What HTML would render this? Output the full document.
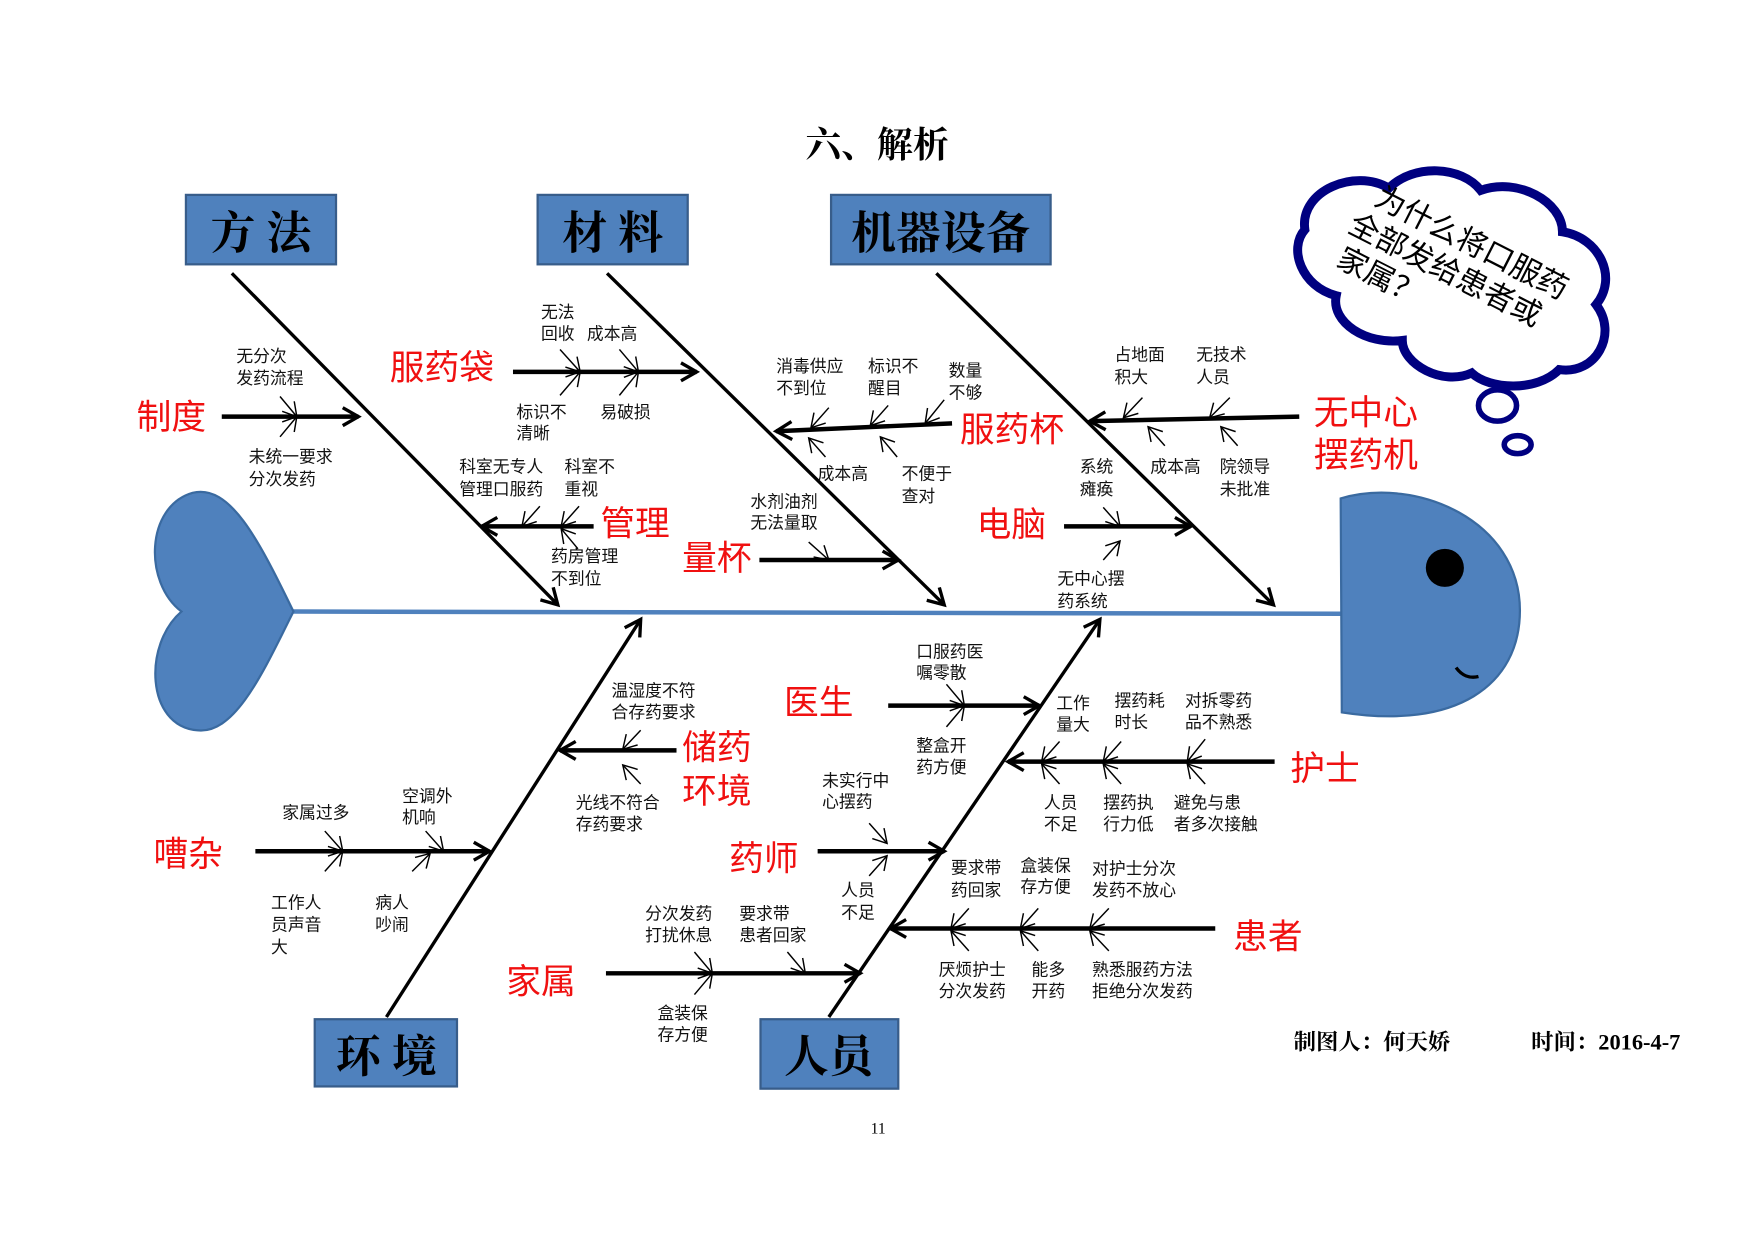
<!DOCTYPE html>
<html><head><meta charset="utf-8"><style>
html,body{margin:0;padding:0;background:#fff;}
svg{display:block;}
text{font-family:"Liberation Sans","Noto Sans CJK SC",sans-serif;}
.s{font-size:15px;fill:#111;}
.r{font-size:31px;fill:#f01010;}
.b{font-family:"Liberation Serif","Noto Serif CJK SC",serif;font-size:40px;fill:#000;text-anchor:middle;font-weight:bold;}
.bone{stroke:#000;stroke-width:3;fill:none;marker-end:url(#big);}
.br{stroke:#000;stroke-width:4;fill:none;marker-end:url(#big);}
.sm{stroke:#000;stroke-width:1.3;fill:none;marker-end:url(#sm);}
</style></head><body>
<svg width="1754" height="1241" viewBox="0 0 1566 1108" preserveAspectRatio="none" xmlns="http://www.w3.org/2000/svg">
<defs>
<marker id="big" markerUnits="userSpaceOnUse" markerWidth="30" markerHeight="30" refX="18" refY="15" orient="auto"><path d="M4,7 L18,15 L4,23" fill="none" stroke="#000" stroke-width="3"/></marker>
<marker id="sm" markerUnits="userSpaceOnUse" markerWidth="24" markerHeight="24" refX="14" refY="12" orient="auto"><path d="M2,5 L14,12 L2,19" fill="none" stroke="#000" stroke-width="1.3"/></marker>
</defs>
<text x="783" y="140" style="font-family:'Liberation Serif','Noto Serif CJK SC',serif;font-size:32px;font-weight:bold" text-anchor="middle">六、解析</text>

<rect x="166" y="174" width="134" height="62" fill="#4f81bd" stroke="#385d8a" stroke-width="2"/>
<text class="b" x="233" y="222">方 法</text>
<rect x="480" y="174" width="134" height="62" fill="#4f81bd" stroke="#385d8a" stroke-width="2"/>
<text class="b" x="547" y="222">材 料</text>
<rect x="742" y="174" width="196" height="62" fill="#4f81bd" stroke="#385d8a" stroke-width="2"/>
<text class="b" x="840" y="222">机器设备</text>
<rect x="281" y="910" width="127" height="60" fill="#4f81bd" stroke="#385d8a" stroke-width="2"/>
<text class="b" x="345" y="957">环 境</text>
<rect x="679" y="910" width="123" height="62" fill="#4f81bd" stroke="#385d8a" stroke-width="2"/>
<text class="b" x="740" y="957">人员</text>

<line x1="262" y1="546" x2="1197" y2="548" stroke="#4f81bd" stroke-width="4"/>
<path d="M262,546 C230,480 205,432 172,440 C130,452 128,520 162,546 C128,575 130,648 176,652 C210,656 235,600 262,546Z" fill="#4f81bd" stroke="#3a6aa0" stroke-width="2"/>
<path d="M1197,445 C1265,425 1357,465 1357,545 C1357,612 1300,652 1198,636 Z" fill="#4f81bd" stroke="#3a6aa0" stroke-width="2"/>
<circle cx="1290" cy="507" r="17" fill="#000"/>
<path d="M1300,596 C1305,603 1312,606 1320,604" stroke="#000" stroke-width="3" fill="none"/>

<path d="M1165,205 C1160,170 1210,150 1240,168 C1262,146 1305,148 1322,170 C1355,158 1395,180 1395,207 C1428,212 1445,248 1425,272 C1445,298 1425,335 1392,330 C1372,350 1330,348 1314,333 C1288,345 1252,325 1252,304 C1220,308 1188,288 1193,264 C1162,256 1150,222 1165,205Z" fill="#fff" stroke="#000080" stroke-width="8"/>
<g transform="translate(1297,250) rotate(27)" style="font-size:27px">
<text x="0" y="-28" text-anchor="middle">为什么将口服药</text>
<text x="-10" y="4" text-anchor="middle">全部发给患者或</text>
<text x="-100" y="36" text-anchor="start">家属？</text>
</g>
<ellipse cx="1337" cy="362" rx="17" ry="14" fill="none" stroke="#000080" stroke-width="5"/>
<ellipse cx="1355" cy="397" rx="12" ry="8" fill="none" stroke="#000080" stroke-width="5"/>

<line class="bone" x1="207" y1="244" x2="498" y2="540"/>
<line class="bone" x1="542" y1="244" x2="843" y2="540"/>
<line class="bone" x1="836" y1="244" x2="1137" y2="540"/>
<line class="bone" x1="345" y1="908" x2="572" y2="553"/>
<line class="bone" x1="740" y1="908" x2="982" y2="553"/>

<text class="r" x="122" y="383">制度</text>
<line class="br" x1="198" y1="372" x2="320" y2="372"/>
<line class="sm" x1="250" y1="354" x2="265" y2="372"/><line class="sm" x1="250" y1="390" x2="265" y2="372"/>
<text class="s" x="211" y="323">无分次</text><text class="s" x="211" y="343">发药流程</text>
<text class="s" x="222" y="413">未统一要求</text><text class="s" x="222" y="433">分次发药</text>
<text class="r" x="348" y="339">服药袋</text>
<line class="br" x1="458" y1="332" x2="622" y2="332"/>
<line class="sm" x1="500" y1="312" x2="518" y2="332"/><line class="sm" x1="500" y1="353" x2="518" y2="332"/>
<line class="sm" x1="553" y1="312" x2="570" y2="332"/><line class="sm" x1="553" y1="353" x2="570" y2="332"/>
<text class="s" x="483" y="284">无法</text><text class="s" x="483" y="303">回收</text><text class="s" x="524" y="303">成本高</text>
<text class="s" x="461" y="373">标识不</text><text class="s" x="461" y="392">清晰</text><text class="s" x="536" y="373">易破损</text>
<text class="r" x="536" y="478">管理</text>
<line class="br" x1="530" y1="470" x2="430" y2="470"/>
<line class="sm" x1="482" y1="452" x2="466" y2="470"/><line class="sm" x1="517" y1="452" x2="501" y2="470"/>
<line class="sm" x1="516" y1="490" x2="501" y2="472"/>
<text class="s" x="410" y="422">科室无专人</text><text class="s" x="410" y="442">管理口服药</text>
<text class="s" x="504" y="422">科室不</text><text class="s" x="504" y="442">重视</text>
<text class="s" x="492" y="502">药房管理</text><text class="s" x="492" y="522">不到位</text>
<text class="r" x="609" y="509">量杯</text>
<line class="br" x1="678" y1="500" x2="802" y2="500"/>
<line class="sm" x1="722" y1="484" x2="740" y2="500"/>
<text class="s" x="670" y="453">水剂油剂</text><text class="s" x="670" y="472">无法量取</text>
<text class="r" x="857" y="394">服药杯</text>
<line class="br" x1="850" y1="378" x2="693" y2="385"/>
<line class="sm" x1="740" y1="364" x2="724" y2="382"/><line class="sm" x1="793" y1="362" x2="777" y2="380"/><line class="sm" x1="843" y1="357" x2="826" y2="378"/>
<line class="sm" x1="737" y1="408" x2="722" y2="391"/><line class="sm" x1="801" y1="408" x2="786" y2="390"/>
<text class="s" x="693" y="332">消毒供应</text><text class="s" x="693" y="352">不到位</text>
<text class="s" x="775" y="332">标识不</text><text class="s" x="775" y="352">醒目</text>
<text class="s" x="847" y="336">数量</text><text class="s" x="847" y="356">不够</text>
<text class="s" x="730" y="428">成本高</text>
<text class="s" x="805" y="428">不便于</text><text class="s" x="805" y="448">查对</text>
<text class="r" x="872" y="479">电脑</text>
<line class="br" x1="950" y1="470" x2="1063" y2="470"/>
<line class="sm" x1="985" y1="453" x2="1000" y2="470"/><line class="sm" x1="985" y1="500" x2="1000" y2="483"/>
<text class="s" x="964" y="422">系统</text><text class="s" x="964" y="442">瘫痪</text>
<text class="s" x="944" y="522">无中心摆</text><text class="s" x="944" y="542">药系统</text>
<text class="r" x="1173" y="379">无中心</text><text class="r" x="1173" y="417">摆药机</text>
<line class="br" x1="1160" y1="372" x2="973" y2="376"/>
<line class="sm" x1="1020" y1="355" x2="1003" y2="373"/><line class="sm" x1="1098" y1="355" x2="1080" y2="373"/>
<line class="sm" x1="1040" y1="398" x2="1025" y2="381"/><line class="sm" x1="1105" y1="398" x2="1090" y2="381"/>
<text class="s" x="995" y="322">占地面</text><text class="s" x="995" y="342">积大</text>
<text class="s" x="1068" y="322">无技术</text><text class="s" x="1068" y="342">人员</text>
<text class="s" x="1027" y="422">成本高</text>
<text class="s" x="1089" y="422">院领导</text><text class="s" x="1089" y="442">未批准</text>

<text class="r" x="609" y="678">储药</text><text class="r" x="609" y="717">环境</text>
<line class="br" x1="604" y1="670" x2="500" y2="670"/>
<line class="sm" x1="572" y1="652" x2="556" y2="669"/><line class="sm" x1="572" y1="700" x2="556" y2="683"/>
<text class="s" x="546" y="622">温湿度不符</text><text class="s" x="546" y="641">合存药要求</text>
<text class="s" x="514" y="722">光线不符合</text><text class="s" x="514" y="741">存药要求</text>
<text class="r" x="137" y="773">嘈杂</text>
<line class="br" x1="228" y1="760" x2="437" y2="760"/>
<line class="sm" x1="290" y1="742" x2="306" y2="760"/><line class="sm" x1="290" y1="778" x2="306" y2="760"/>
<line class="sm" x1="380" y1="742" x2="396" y2="760"/><line class="sm" x1="368" y1="778" x2="384" y2="762"/>
<text class="s" x="252" y="731">家属过多</text>
<text class="s" x="359" y="716">空调外</text><text class="s" x="359" y="735">机响</text>
<text class="s" x="242" y="811">工作人</text><text class="s" x="242" y="831">员声音</text><text class="s" x="242" y="851">大</text>
<text class="s" x="335" y="811">病人</text><text class="s" x="335" y="831">吵闹</text>
<text class="r" x="700" y="638">医生</text>
<line class="br" x1="793" y1="630" x2="928" y2="630"/>
<line class="sm" x1="845" y1="611" x2="861" y2="630"/><line class="sm" x1="845" y1="649" x2="861" y2="630"/>
<text class="s" x="818" y="587">口服药医</text><text class="s" x="818" y="606">嘱零散</text>
<text class="s" x="818" y="671">整盒开</text><text class="s" x="818" y="690">药方便</text>
<text class="r" x="1152" y="697">护士</text>
<line class="br" x1="1138" y1="680" x2="900" y2="680"/>
<line class="sm" x1="946" y1="662" x2="930" y2="680"/><line class="sm" x1="1001" y1="662" x2="985" y2="680"/><line class="sm" x1="1076" y1="660" x2="1060" y2="680"/>
<line class="sm" x1="946" y1="700" x2="930" y2="682"/><line class="sm" x1="1001" y1="700" x2="985" y2="682"/><line class="sm" x1="1076" y1="700" x2="1060" y2="682"/>
<text class="s" x="943" y="633">工作</text><text class="s" x="943" y="652">量大</text>
<text class="s" x="995" y="631">摆药耗</text><text class="s" x="995" y="650">时长</text>
<text class="s" x="1058" y="631">对拆零药</text><text class="s" x="1058" y="650">品不熟悉</text>
<text class="s" x="932" y="722">人员</text><text class="s" x="932" y="741">不足</text>
<text class="s" x="985" y="722">摆药执</text><text class="s" x="985" y="741">行力低</text>
<text class="s" x="1048" y="722">避免与患</text><text class="s" x="1048" y="741">者多次接触</text>
<text class="r" x="651" y="777">药师</text>
<line class="br" x1="730" y1="760" x2="843" y2="760"/>
<line class="sm" x1="776" y1="735" x2="792" y2="753"/><line class="sm" x1="776" y1="782" x2="792" y2="764"/>
<text class="s" x="734" y="702">未实行中</text><text class="s" x="734" y="721">心摆药</text>
<text class="s" x="751" y="800">人员</text><text class="s" x="751" y="820">不足</text>
<text class="r" x="1101" y="847">患者</text>
<line class="br" x1="1085" y1="829" x2="795" y2="829"/>
<line class="sm" x1="865" y1="811" x2="849" y2="829"/><line class="sm" x1="927" y1="811" x2="911" y2="829"/><line class="sm" x1="990" y1="811" x2="973" y2="829"/>
<line class="sm" x1="865" y1="849" x2="849" y2="831"/><line class="sm" x1="927" y1="849" x2="911" y2="831"/><line class="sm" x1="990" y1="849" x2="973" y2="831"/>
<text class="s" x="849" y="780">要求带</text><text class="s" x="849" y="800">药回家</text>
<text class="s" x="911" y="778">盒装保</text><text class="s" x="911" y="797">存方便</text>
<text class="s" x="975" y="781">对护士分次</text><text class="s" x="975" y="800">发药不放心</text>
<text class="s" x="838" y="871">厌烦护士</text><text class="s" x="838" y="890">分次发药</text>
<text class="s" x="921" y="871">能多</text><text class="s" x="921" y="890">开药</text>
<text class="s" x="975" y="871">熟悉服药方法</text><text class="s" x="975" y="890">拒绝分次发药</text>
<text class="r" x="452" y="887">家属</text>
<line class="br" x1="541" y1="869" x2="768" y2="869"/>
<line class="sm" x1="620" y1="850" x2="636" y2="869"/><line class="sm" x1="620" y1="888" x2="636" y2="869"/>
<line class="sm" x1="703" y1="850" x2="719" y2="869"/>
<text class="s" x="576" y="821">分次发药</text><text class="s" x="576" y="840">打扰休息</text>
<text class="s" x="660" y="821">要求带</text><text class="s" x="660" y="840">患者回家</text>
<text class="s" x="587" y="910">盒装保</text><text class="s" x="587" y="929">存方便</text>

<text x="1155" y="937" style="font-family:'Liberation Serif','Noto Serif CJK SC',serif;font-size:20px;font-weight:bold">制图人：何天娇</text>
<text x="1367" y="937" style="font-family:'Liberation Serif','Noto Serif CJK SC',serif;font-size:20px;font-weight:bold">时间：2016-4-7</text>
<text x="784" y="1012" text-anchor="middle" style="font-family:'Liberation Serif',serif;font-size:14px">11</text>
</svg>
</body></html>
